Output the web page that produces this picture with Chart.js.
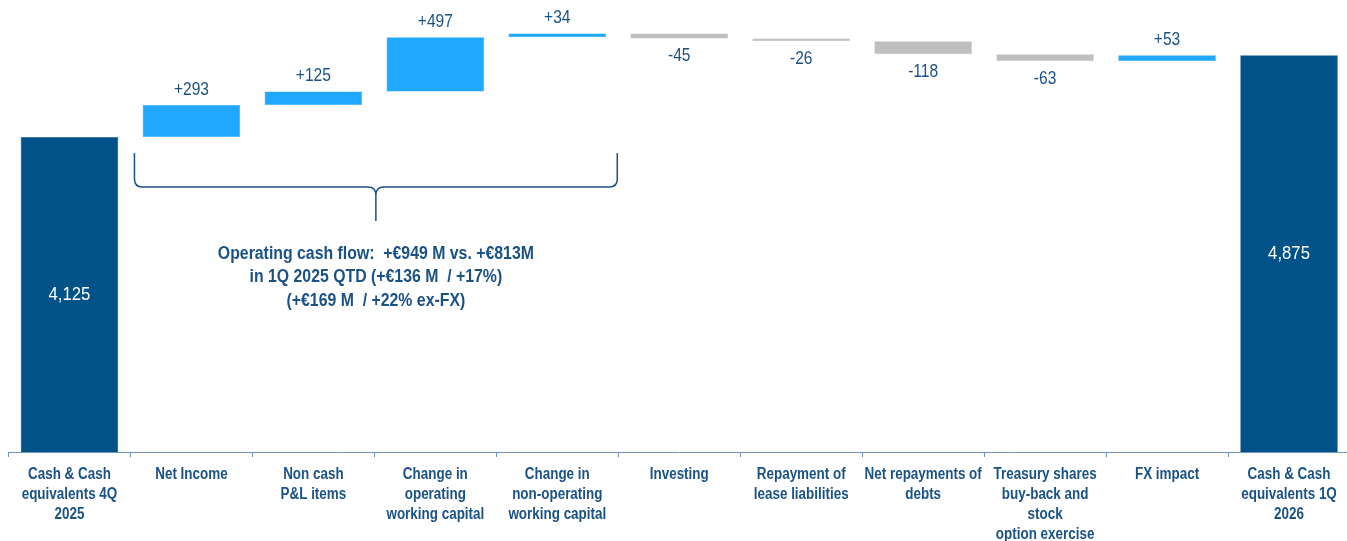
<!DOCTYPE html>
<html lang="en">
<head>
  <meta charset="UTF-8" />
  <title>Cash flow bridge</title>
  <script src="https://cdn.jsdelivr.net/npm/chart.js"></script>
  <style>
    html, body { margin: 0; padding: 0; background: #fff; overflow: hidden; }
    #wrap { width: 1350px; height: 541px; }
  </style>
</head>
<body>
  <div id="wrap"><canvas id="bridge" width="1350" height="541"></canvas></div>

  <script>
    const categories = [
      ['Cash & Cash', 'equivalents 4Q', '2025'],
      ['Net Income'],
      ['Non cash', 'P&L items'],
      ['Change in', 'operating', 'working capital'],
      ['Change in', 'non-operating', 'working capital'],
      ['Investing'],
      ['Repayment of', 'lease liabilities'],
      ['Net repayments of', 'debts'],
      ['Treasury shares', 'buy-back and', 'stock', 'option exercise'],
      ['FX impact'],
      ['Cash & Cash', 'equivalents 1Q', '2026']
    ];
    const openingCash = 4125;
    const movements = [293, 125, 497, 34, -45, -26, -118, -63, 53];
    const closingCash = 4875;
    const noteLines = [
      'Operating cash flow:  +\u20ac949 M vs. +\u20ac813M',
      'in 1Q 2025 QTD (+\u20ac136 M  / +17%)',
      '(+\u20ac169 M  / +22% ex-FX)'
    ];

    const NAVY = '#005288';
    const SKY = '#20a8ff';
    const GREY = '#bfbfbf';
    const TEXT = '#1a5285';
    const FONT = '"Liberation Sans", Arial, sans-serif';

    // floating bars: [from, to] for every column
    const ranges = [[0, openingCash]];
    const colors = [NAVY];
    let running = openingCash;
    movements.forEach(m => {
      ranges.push([running, running + m]);
      colors.push(m >= 0 ? SKY : GREY);
      running += m;
    });
    ranges.push([0, closingCash]);
    colors.push(NAVY);

    const fmt = v => v.toLocaleString('en-US');

    // no narrow face installed, so squeeze the regular one horizontally
    function narrowText(ctx, text, x, y, sx) {
      ctx.save();
      ctx.translate(x, y);
      ctx.scale(sx, 1);
      ctx.fillText(text, 0, 0);
      ctx.restore();
    }

    const labelPlugin = {
      id: 'bridgeLabels',
      afterDatasetsDraw(chart) {
        const ctx = chart.ctx;
        const area = chart.chartArea;
        const meta = chart.getDatasetMeta(0);
        ctx.save();
        ctx.textAlign = 'center';
        meta.data.forEach((bar, i) => {
          const top = Math.min(bar.y, bar.base);
          const bottom = Math.min(Math.max(bar.y, bar.base), area.bottom);
          if (i === 0 || i === meta.data.length - 1) {
            const v = i === 0 ? openingCash : closingCash;
            ctx.fillStyle = '#ffffff';
            ctx.font = '19px ' + FONT;
            ctx.textBaseline = 'middle';
            narrowText(ctx, fmt(v), bar.x, (top + bottom) / 2, 0.88);
          } else {
            const m = movements[i - 1];
            ctx.fillStyle = TEXT;
            ctx.font = '19px ' + FONT;
            if (m >= 0) {
              ctx.textBaseline = 'bottom';
              narrowText(ctx, '+' + fmt(m), bar.x, top - 6, 0.82);
            } else {
              ctx.textBaseline = 'top';
              narrowText(ctx, '-' + fmt(-m), bar.x, bottom + 8, 0.82);
            }
          }
        });

        // brace grouping the operating items
        const x = chart.scales.x;
        const left = x.getPixelForValue(0.5) + 4;
        const right = x.getPixelForValue(4.5) - 1;
        const mid = (left + right) / 2;
        const yEnd = 153, yLine = 187, yTip = 221, r = 8;
        ctx.strokeStyle = TEXT;
        ctx.lineWidth = 1.5;
        ctx.beginPath();
        ctx.moveTo(left, yEnd);
        ctx.lineTo(left, yLine - r);
        ctx.quadraticCurveTo(left, yLine, left + r, yLine);
        ctx.lineTo(mid - r, yLine);
        ctx.quadraticCurveTo(mid, yLine, mid, yLine + r);
        ctx.lineTo(mid, yTip);
        ctx.moveTo(right, yEnd);
        ctx.lineTo(right, yLine - r);
        ctx.quadraticCurveTo(right, yLine, right - r, yLine);
        ctx.lineTo(mid + r, yLine);
        ctx.quadraticCurveTo(mid, yLine, mid, yLine + r);
        ctx.stroke();

        ctx.fillStyle = TEXT;
        ctx.font = 'bold 18px ' + FONT;
        ctx.textBaseline = 'middle';
        noteLines.forEach((t, k) => narrowText(ctx, t, mid, 254 + k * 23.5, 0.88));

        // category names under the axis, one block per tick
        ctx.font = 'bold 16px ' + FONT;
        categories.forEach((lines, i) => {
          const cx = x.getPixelForTick(i);
          lines.forEach((t, k) => narrowText(ctx, t, cx, area.bottom + 22.5 + k * 20, 0.84));
        });
        ctx.restore();
      }
    };

    new Chart(document.getElementById('bridge'), {
      type: 'bar',
      data: {
        labels: categories,
        datasets: [{
          data: ranges,
          backgroundColor: colors,
          borderColor: colors,
          borderWidth: 0.5,
          borderSkipped: false,
          barPercentage: 0.8,
          categoryPercentage: 1.0
        }]
      },
      options: {
        responsive: false,
        animation: false,
        layout: { padding: { left: 8.5, right: 0, top: 0, bottom: 0 } },
        plugins: { legend: { display: false }, tooltip: { enabled: false } },
        scales: {
          x: {
            afterFit(scale) { scale.height = 89; },
            border: { display: true, color: '#6f94bd', width: 1 },
            grid: {
              display: true,
              drawOnChartArea: false,
              drawTicks: true,
              tickLength: 5,
              offset: true,
              color: '#6f94bd'
            },
            ticks: { display: false, autoSkip: false, maxRotation: 0 }
          },
          y: {
            display: false,
            min: 1235,
            max: 5382
          }
        }
      },
      plugins: [labelPlugin]
    });
  </script>
</body>
</html>
